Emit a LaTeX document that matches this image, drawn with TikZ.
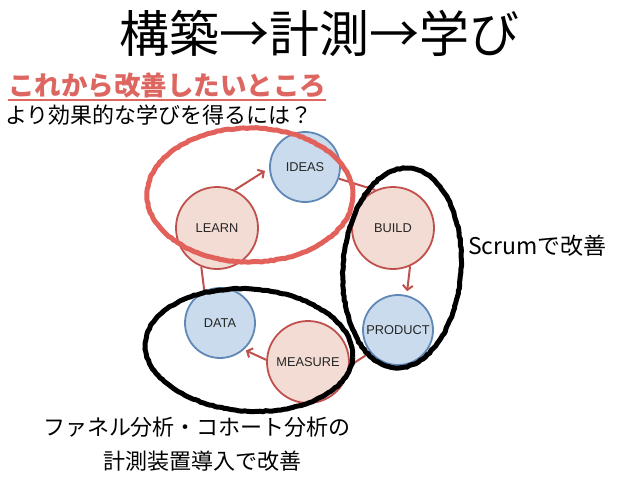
\documentclass[tikz,border=0pt]{standalone}
\usepackage{fontspec}
\setmainfont{Liberation Sans}
\newfontfamily\jp{Noto Sans CJK JP}
\usetikzlibrary{arrows.meta,decorations.pathmorphing}

\definecolor{redline}{HTML}{C0504D}
\definecolor{redfill}{HTML}{F2DCD4}
\definecolor{blueline}{HTML}{5F88B6}
\definecolor{bluefill}{HTML}{C9DBEC}
\definecolor{markred}{HTML}{E2615B}
\definecolor{subred}{HTML}{DD6660}
\definecolor{labelgray}{HTML}{262626}

\begin{document}
\begin{tikzpicture}[x=1pt,y=-1pt,
  cnode/.style={circle,line width=1.8pt,inner sep=0pt,text=labelgray,
    font=\fontsize{12.8}{14}\selectfont},
  redc/.style={cnode,draw=redline,fill=redfill,minimum size=82pt},
  bluec/.style={cnode,draw=blueline,fill=bluefill,minimum size=70pt},
  conn/.style={draw=redline,line width=2pt},
  arr/.style={conn,-{Straight Barb[length=4.5pt,width=10pt]}},
  rough/.style={decorate,decoration={random steps,segment length=3pt,amplitude=0.5pt}},
  jptext/.style={inner sep=0pt,font=\jp\fontsize{22}{26}\selectfont},
]
\useasboundingbox (0,0) rectangle (638,479);

% titles
\node[inner sep=0pt,font=\jp\fontsize{50}{56}\selectfont] (title) at (319.5,33) {構築→計測→学び};
\node[anchor=west,inner sep=0pt,text=subred,font=\jp\bfseries\fontsize{26.5}{30}\selectfont] (sub) at (8,85) {これから改善したいところ};
\draw[subred,line width=2.5pt] ([yshift=-2pt]sub.south west) -- ([yshift=-2pt]sub.south east);
\node[anchor=west,jptext] (q) at (5,115) {より効果的な学びを得るには？};

% cycle
\node[bluec] (ideas) at (305,167) {IDEAS};
\node[redc] (learn) at (217,228) {LEARN};
\node[redc] (build) at (393,228) {BUILD};
\node[bluec] (product) at (398,330) {PRODUCT};
\node[bluec] (data) at (220,323) {DATA};
\node[redc] (measure) at (308,362) {MEASURE};

\draw[arr,shorten >=5pt] (learn.65) -- (ideas.182);
\draw[conn] (ideas.-19) -- (build.115);
\draw[arr,shorten >=4pt] (build.-66) -- (product.76);
\draw[conn] (product.219) -- (measure.-5);
\draw[arr,shorten >=2pt] (measure.177) -- (data.-48);
\draw[conn] (data.116) -- (learn.248);

% hand-drawn marks
\draw[markred,line width=5pt,rough] (250,195) ellipse [x radius=103pt,y radius=67pt];
\begin{scope}[rotate around={-4:(402,268)}]
\draw[black,line width=5pt,rough] (402,268) ellipse [x radius=59pt,y radius=100pt];
\end{scope}
\begin{scope}[rotate around={-4:(249,350)}]
\draw[black,line width=5pt,rough] (249,350) ellipse [x radius=104pt,y radius=61pt];
\end{scope}

% annotations
\node[anchor=west,inner sep=0pt,font=\jp\fontsize{23}{26}\selectfont] (scrum) at (468,246) {Scrumで改善};
\node[jptext] (funnel) at (197,427) {ファネル分析・コホート分析の};
\node[jptext] (install) at (202,461) {計測装置導入で改善};
\end{tikzpicture}
\end{document}
